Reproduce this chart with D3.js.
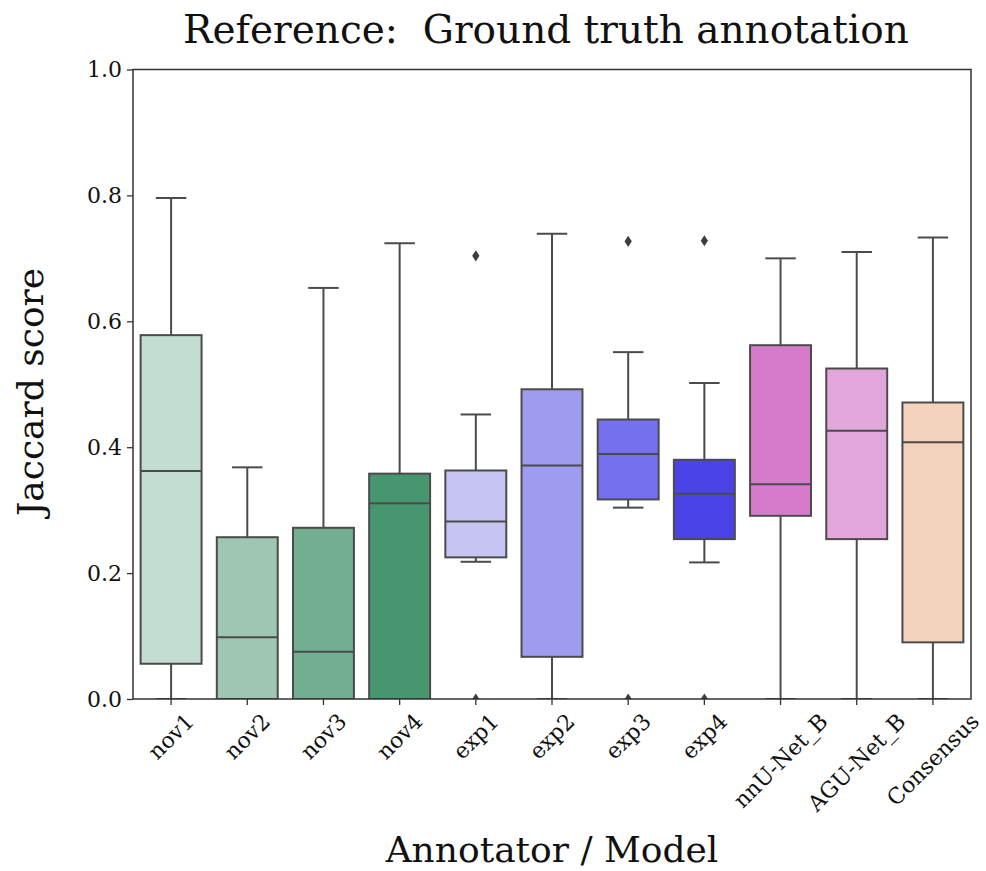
<!DOCTYPE html>
<meta charset="utf-8">
<head>
<script src="https://d3js.org/d3.v7.min.js"></script>
<style>
  body { margin: 0; background: #fff; }
  text { font-family: "DejaVu Serif", serif; fill: #111; white-space: pre; }
</style>
</head>
<body>
<svg id="chart" width="986" height="871"></svg>

<script>
// values
var categories = ["nov1", "nov2", "nov3", "nov4", "exp1", "exp2", "exp3", "exp4", "nnU-Net_B", "AGU-Net_B", "Consensus"];
var whiskLo = [0, 0, 0, 0, 0.218, 0, 0.304, 0.217, 0, 0, 0];
var q1      = [0.056, 0, 0, 0, 0.225, 0.067, 0.317, 0.254, 0.291, 0.254, 0.090];
var median  = [0.362, 0.098, 0.075, 0.311, 0.282, 0.371, 0.389, 0.326, 0.341, 0.426, 0.408];
var q3      = [0.578, 0.257, 0.272, 0.358, 0.363, 0.492, 0.444, 0.380, 0.562, 0.525, 0.471];
var whiskHi = [0.796, 0.368, 0.653, 0.724, 0.452, 0.739, 0.551, 0.502, 0.700, 0.710, 0.733];
var outliers = [[], [], [], [], [0.704, 0], [], [0.727, 0], [0.728, 0], [], [], []];
var colors = ["#c4ddd1", "#9fc6b2", "#72ae91", "#47966f", "#c6c4f3", "#9e9cee", "#7470ee", "#4a43e8", "#d67bcb", "#e2a6da", "#f3d3bd"];
var yTicks = [0, 0.2, 0.4, 0.6, 0.8, 1.0];

var svg = d3.select("#chart");
var mLeft = 133, mRight = 971, mTop = 69.5, mBottom = 699;
var edge = "#4b4b4b";

var x = d3.scaleBand().domain(categories).range([mLeft, mRight]).paddingInner(0).paddingOuter(0);
var y = d3.scaleLinear().domain([0, 1]).range([mBottom, mTop]);
var bw = x.bandwidth() * 0.8;

svg.append("clipPath").attr("id", "plotclip")
  .append("rect").attr("x", mLeft).attr("y", mTop).attr("width", mRight - mLeft).attr("height", mBottom - mTop);

var plot = svg.append("g").attr("clip-path", "url(#plotclip)");

categories.forEach(function (c, i) {
  var cx = x(c) + x.bandwidth() / 2;
  var g = plot.append("g");
  // whiskers
  g.append("line").attr("x1", cx).attr("x2", cx).attr("y1", y(q3[i])).attr("y2", y(whiskHi[i]))
    .attr("stroke", edge).attr("stroke-width", 2);
  g.append("line").attr("x1", cx).attr("x2", cx).attr("y1", y(q1[i])).attr("y2", y(whiskLo[i]))
    .attr("stroke", edge).attr("stroke-width", 2);
  // caps
  [whiskHi[i], whiskLo[i]].forEach(function (v) {
    g.append("line").attr("x1", cx - bw / 4).attr("x2", cx + bw / 4).attr("y1", y(v)).attr("y2", y(v))
      .attr("stroke", edge).attr("stroke-width", 2);
  });
  // box
  g.append("rect").attr("x", cx - bw / 2).attr("width", bw)
    .attr("y", y(q3[i])).attr("height", y(q1[i]) - y(q3[i]))
    .attr("fill", colors[i]).attr("stroke", edge).attr("stroke-width", 2);
  // median
  g.append("line").attr("x1", cx - bw / 2).attr("x2", cx + bw / 2).attr("y1", y(median[i])).attr("y2", y(median[i]))
    .attr("stroke", edge).attr("stroke-width", 2);
  // outliers
  outliers[i].forEach(function (v) {
    g.append("path").attr("d", d3.symbol().type(d3.symbolDiamond2).size(60)())
      .attr("transform", "translate(" + cx + "," + y(v) + ") scale(0.75,1.15)")
      .attr("fill", "#3d3d3d");
  });
});

// frame
svg.append("rect").attr("x", mLeft).attr("y", mTop).attr("width", mRight - mLeft).attr("height", mBottom - mTop)
  .attr("fill", "none").attr("stroke", "#333").attr("stroke-width", 1.5);

// y axis
var yAxis = svg.append("g").attr("transform", "translate(" + mLeft + ",0)")
  .call(d3.axisLeft(y).tickValues(yTicks).tickFormat(d3.format(".1f")).tickSize(6).tickPadding(5));
yAxis.select(".domain").remove();
yAxis.selectAll(".tick line").attr("stroke", "#333").attr("stroke-width", 1.3);
yAxis.selectAll(".tick text").attr("font-family", "DejaVu Serif").attr("font-size", 22).attr("fill", "#111");

// x axis
var xAxis = svg.append("g").attr("transform", "translate(0," + mBottom + ")")
  .call(d3.axisBottom(x).tickSize(6).tickFormat(""));
xAxis.select(".domain").remove();
xAxis.selectAll(".tick line").attr("stroke", "#333").attr("stroke-width", 1.3);

categories.forEach(function (c) {
  var cx = x(c) + x.bandwidth() / 2;
  var t = svg.append("text").text(c).attr("font-size", 22)
    .attr("text-anchor", "middle").attr("dominant-baseline", "central");
  var w = t.node().getComputedTextLength(), h = 24;
  var cy = mBottom + 10 + (w + h) / (2 * Math.SQRT2);
  t.attr("transform", "translate(" + cx + "," + cy + ") rotate(-45)");
});

// titles
svg.append("text").attr("x", (mLeft + mRight) / 2 - 6).attr("y", 43).attr("text-anchor", "middle")
  .attr("font-size", 39).text("Reference:  Ground truth annotation");
svg.append("text").attr("x", (mLeft + mRight) / 2).attr("y", 862).attr("text-anchor", "middle")
  .attr("font-size", 36).text("Annotator / Model");
svg.append("text").attr("transform", "translate(43,392) rotate(-90)")
  .attr("text-anchor", "middle").attr("font-size", 36).text("Jaccard score");
</script>
</body>
</html>
